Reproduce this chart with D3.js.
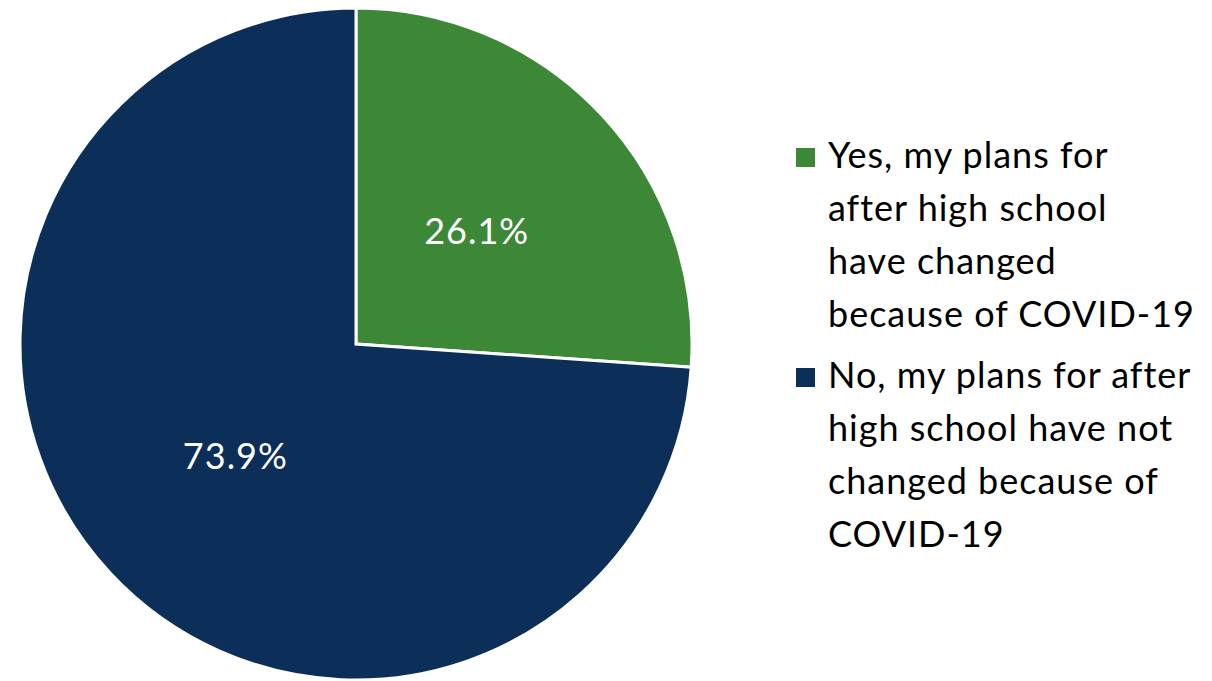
<!DOCTYPE html>
<html>
<head>
<meta charset="utf-8">
<script src="https://cdn.jsdelivr.net/npm/d3@7"></script>
<style>
  html, body { margin: 0; padding: 0; background: #fff; }
  svg { display: block; }
</style>
</head>
<body>
<svg id="chart" width="1212" height="681"></svg>
<script>
// Survey responses: did COVID-19 change plans for after high school?
const categories = [
  ["Yes, my plans for", "after high school", "have changed", "because of COVID-19"],
  ["No, my plans for after", "high school have not", "changed because of", "COVID-19"]
];
const values = [26.1, 73.9];
const colors = ["#3d8837", "#0c2f59"];

const svg = d3.select("#chart");
const fontFamily = "Lato, 'Open Sans', sans-serif";

const cx = 356, cy = 344, radius = 336;

const pie = d3.pie().sort(null).value(d => d)(values);
const arc = d3.arc().innerRadius(0).outerRadius(radius);
const labelArc = d3.arc().innerRadius(165).outerRadius(165);

const g = svg.append("g").attr("transform", `translate(${cx},${cy})`);

g.selectAll("path.slice")
  .data(pie)
  .join("path")
  .attr("class", "slice")
  .attr("d", arc)
  .attr("fill", (d, i) => colors[i])
  .attr("stroke", "#fff")
  .attr("stroke-width", 3)
  .attr("stroke-linejoin", "miter");

g.selectAll("text.value")
  .data(pie)
  .join("text")
  .attr("class", "value")
  .attr("transform", d => `translate(${labelArc.centroid(d)})`)
  .attr("text-anchor", "middle")
  .attr("dy", "0.35em")
  .attr("fill", "#fff")
  .attr("font-family", fontFamily)
  .attr("font-size", 36)
  .attr("letter-spacing", 1)
  .text(d => d.data.toFixed(1) + "%");

// Legend
const legendX = 796, textX = 828, lineH = 53;
const legendTops = [168, 388];

const items = svg.selectAll("g.legend")
  .data(categories)
  .join("g")
  .attr("class", "legend");

items.append("rect")
  .attr("x", legendX)
  .attr("y", (d, i) => legendTops[i] - 20)
  .attr("width", 19)
  .attr("height", 19)
  .attr("fill", (d, i) => colors[i]);

items.each(function(lines, i) {
  const t = d3.select(this).append("text")
    .attr("font-family", fontFamily)
    .attr("font-size", 36)
    .attr("letter-spacing", 1)
    .attr("fill", "#000");
  lines.forEach((line, j) => {
    t.append("tspan")
      .attr("x", textX)
      .attr("y", legendTops[i] + j * lineH)
      .text(line);
  });
});
</script>
</body>
</html>
